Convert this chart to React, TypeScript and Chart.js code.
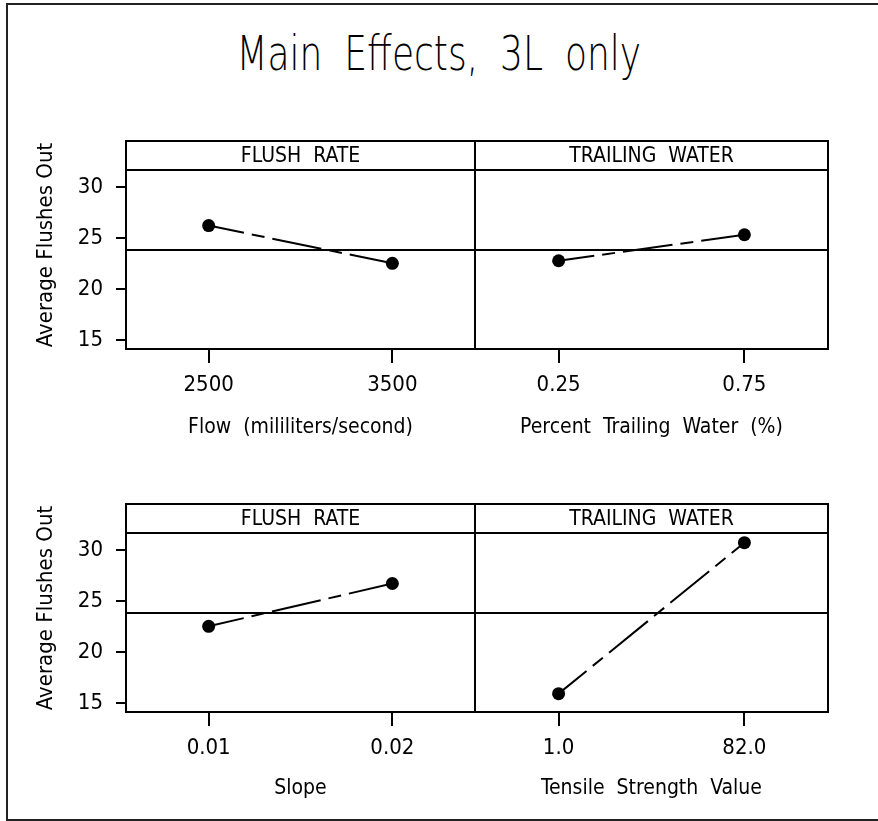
import React, { useEffect, useRef } from "react";
import { Chart, registerables } from "chart.js";

Chart.register(...registerables);

const TITLE = "Main Effects, 3L only";
const Y_TITLE = "Average Flushes Out";
const Y_TICKS = [15, 20, 25, 30];
const Y_MIN = 14.1;
const Y_MAX = 31.65;
const GRAND_MEAN = 23.8;

const STRIP_LEFT = "FLUSH  RATE";
const STRIP_RIGHT = "TRAILING  WATER";

const FLOW_LEVELS = ["2500", "3500"];
const FLOW_MEANS = [26.2, 22.5];
const FLOW_TITLE = "Flow  (mililiters/second)";

const TRAIL_LEVELS = ["0.25", "0.75"];
const TRAIL_MEANS = [22.75, 25.3];
const TRAIL_TITLE = "Percent  Trailing  Water  (%)";

const SLOPE_LEVELS = ["0.01", "0.02"];
const SLOPE_MEANS = [22.5, 26.7];
const SLOPE_TITLE = "Slope";

const TENSILE_LEVELS = ["1.0", "82.0"];
const TENSILE_MEANS = [15.9, 30.7];
const TENSILE_TITLE = "Tensile  Strength  Value";

const FONT = '"DejaVu Sans Condensed", "Liberation Sans Narrow", "Liberation Sans", sans-serif';

type Panel = {
  levels: string[];
  means: number[];
  xTitle: string;
  strip: string;
  left: boolean;
  top: number;
  titlePad: number;
};

const PANELS: Panel[] = [
  { levels: FLOW_LEVELS, means: FLOW_MEANS, xTitle: FLOW_TITLE, strip: STRIP_LEFT, left: true, top: 130, titlePad: 10 },
  { levels: TRAIL_LEVELS, means: TRAIL_MEANS, xTitle: TRAIL_TITLE, strip: STRIP_RIGHT, left: false, top: 130, titlePad: 10 },
  { levels: SLOPE_LEVELS, means: SLOPE_MEANS, xTitle: SLOPE_TITLE, strip: STRIP_LEFT, left: true, top: 493, titlePad: 12 },
  { levels: TENSILE_LEVELS, means: TENSILE_MEANS, xTitle: TENSILE_TITLE, strip: STRIP_RIGHT, left: false, top: 493, titlePad: 12 },
];

const panelDecor = {
  id: "panelDecor",
  beforeDatasetsDraw(chart: any) {
    const { ctx, chartArea } = chart;
    const y = chart.scales.y.getPixelForValue(GRAND_MEAN);
    ctx.save();
    ctx.strokeStyle = "#000";
    ctx.lineWidth = 2;
    ctx.beginPath();
    ctx.moveTo(chartArea.left, y);
    ctx.lineTo(chartArea.right, y);
    ctx.stroke();
    ctx.restore();
  },
  afterDraw(chart: any, _args: any, opts: any) {
    const { ctx, chartArea } = chart;
    const { left, right, top, bottom } = chartArea;
    const stripH = 29;
    ctx.save();
    ctx.strokeStyle = "#000";
    ctx.lineWidth = 2;
    ctx.strokeRect(left, top - stripH, right - left, bottom - top + stripH);
    ctx.beginPath();
    ctx.moveTo(left, top);
    ctx.lineTo(right, top);
    ctx.stroke();
    ctx.fillStyle = "#000";
    ctx.font = `21px ${FONT}`;
    ctx.textAlign = "center";
    ctx.textBaseline = "middle";
    ctx.fillText(opts.strip, (left + right) / 2, top - stripH / 2 + 1);
    if (opts.yTitle) {
      ctx.font = `22px ${FONT}`;
      ctx.translate(46, (top - stripH + bottom) / 2);
      ctx.rotate(-Math.PI / 2);
      ctx.fillText(opts.yTitle, 0, 0);
    }
    ctx.restore();
  },
};

function PanelChart({ p }: { p: Panel }) {
  const ref = useRef<HTMLCanvasElement>(null);
  useEffect(() => {
    if (!ref.current) return;
    const tickFont = { family: FONT, size: 22 };
    const titleFont = { family: FONT, size: 21 };
    const chart = new Chart(ref.current, {
      type: "line",
      data: {
        datasets: [
          {
            data: p.means.map((v, i) => ({ x: i, y: v })),
            borderColor: "#000",
            borderWidth: 2,
            borderDash: [50, 8, 13, 8],
            borderDashOffset: 14,
            pointRadius: 6.5,
            pointBackgroundColor: "#000",
            pointBorderColor: "#000",
            pointBorderWidth: 0,
            fill: false,
            tension: 0,
          },
        ],
      },
      options: {
        responsive: false,
        animation: false,
        events: [],
        layout: { autoPadding: false, padding: { top: 40, right: p.left ? 1 : 50, left: 0, bottom: 0 } },
        plugins: {
          legend: { display: false },
          tooltip: { enabled: false },
          panelDecor: { strip: p.strip, yTitle: p.left ? Y_TITLE : null },
        } as any,
        scales: {
          x: {
            type: "linear",
            min: -0.45,
            max: 1.45,
            afterBuildTicks: (s: any) => {
              s.ticks = p.levels.map((_, i) => ({ value: i }));
            },
            afterFit: (s: any) => {
              s.height = 101;
            },
            ticks: {
              callback: (v: any) => p.levels[v],
              color: "#000",
              font: tickFont,
              padding: 9,
              autoSkip: false,
              maxRotation: 0,
            },
            grid: { drawOnChartArea: false, tickLength: 14, color: "#000", lineWidth: 2 },
            border: { display: false },
            title: {
              display: true,
              text: p.xTitle,
              color: "#000",
              font: titleFont,
              padding: { top: 0, bottom: p.titlePad },
            },
          },
          y: {
            type: "linear",
            min: Y_MIN,
            max: Y_MAX,
            display: p.left,
            afterBuildTicks: (s: any) => {
              s.ticks = Y_TICKS.map((v) => ({ value: v }));
            },
            afterFit: (s: any) => {
              s.width = p.left ? 126 : 0;
            },
            ticks: { color: "#000", font: tickFont, padding: 13 },
            grid: { drawOnChartArea: false, tickLength: 10, color: "#000", lineWidth: 2 },
            border: { display: false },
          },
        },
      },
      plugins: [panelDecor],
    } as any);
    return () => chart.destroy();
  }, []);
  const leftPos = p.left ? 0 : 475;
  const width = p.left ? 476 : 403;
  return (
    <canvas
      ref={ref}
      width={width}
      height={320}
      style={{ position: "absolute", left: leftPos, top: p.top, width, height: 320 }}
    />
  );
}

export default function App() {
  return (
    <div
      style={{
        position: "absolute",
        left: 0,
        top: 0,
        width: 878,
        height: 821,
        overflow: "hidden",
        background: "#fff",
      }}
    >
      <div
        style={{
          position: "absolute",
          left: 6,
          top: 3,
          width: 900,
          height: 818,
          border: "2px solid #222",
          boxSizing: "border-box",
        }}
      />
      <div
        style={{
          position: "absolute",
          left: 0,
          width: 878,
          top: 23,
          textAlign: "center",
          fontFamily: '"DejaVu Sans", sans-serif',
          fontWeight: 200,
          fontSize: 48,
          lineHeight: "60px",
          color: "#000",
          whiteSpace: "pre",
        }}
      >
        <span style={{ display: "inline-block", transform: "scaleX(0.75)", wordSpacing: 14 }}>{TITLE}</span>
      </div>
      {PANELS.map((p, i) => (
        <PanelChart key={i} p={p} />
      ))}
    </div>
  );
}
